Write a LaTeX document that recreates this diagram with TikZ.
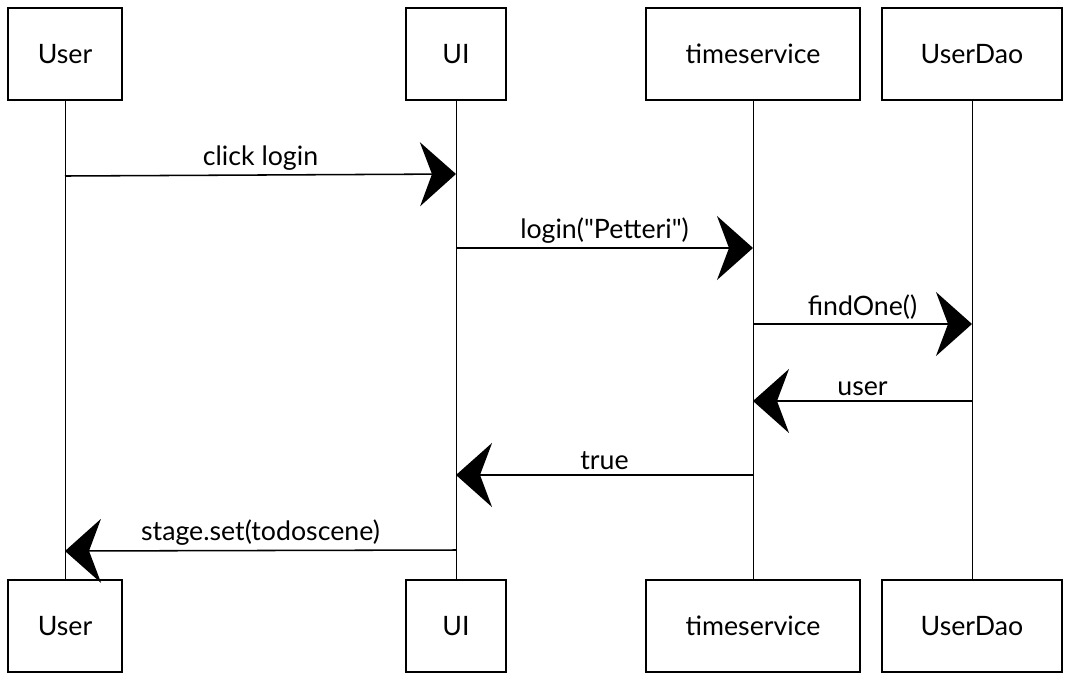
\documentclass[tikz,border=0pt]{standalone}
\usepackage{fontspec}
\setmainfont{Lato}[Ligatures=TeXOff]
\usetikzlibrary{arrows.meta}
\tikzset{
    box/.style={draw,line width=1.3pt,minimum height=2.3cm,inner sep=0pt,font=\fontsize{19}{22}\selectfont},
    life/.style={line width=.7pt},
    msg/.style={line width=1.1pt,-{Stealth[length=.9cm,width=1.6cm,inset=.3cm]}},
    lbl/.style={font=\fontsize{19}{22}\selectfont,inner sep=3pt}
}
\begin{document}
\begin{tikzpicture}[x=.025cm,y=-.025cm]
\useasboundingbox (0,0) rectangle (1070,680);
% heads
    \node[box,minimum width=2.85cm](U1) at (65,54){User};
    \node[box,minimum width=2.5cm](I1) at (456,54){UI};
    \node[box,minimum width=5.35cm](T1) at (753,54){timeservice};
    \node[box,minimum width=4.5cm](D1) at (972,54){UserDao};
% feet
    \node[box,minimum width=2.85cm](U2) at (65,626){User};
    \node[box,minimum width=2.5cm](I2) at (456,626){UI};
    \node[box,minimum width=5.35cm](T2) at (753,626){timeservice};
    \node[box,minimum width=4.5cm](D2) at (972,626){UserDao};
    \draw[life](U1)--(U2) (I1)--(I2) (T1)--(T2) (D1)--(D2);
% message ends on the lifelines
    \coordinate(U-a) at (65,176);
    \coordinate(I-a) at (456,174);
    \coordinate(I-b) at (456,248);
    \coordinate(T-b) at (753,248);
    \coordinate(T-c) at (753,324);
    \coordinate(D-c) at (972,324);
    \coordinate(D-d) at (972,401);
    \coordinate(T-d) at (753,401);
    \coordinate(T-e) at (753,475);
    \coordinate(I-e) at (456,475);
    \coordinate(I-f) at (456,550);
    \coordinate(U-f) at (65,551);
    \draw[msg](U-a)--(I-a) node[lbl,midway,above]{click login};
    \draw[msg](I-b)--(T-b) node[lbl,midway,above]{login("Petteri")};
    \draw[msg](T-c)--(D-c) node[lbl,midway,above]{findOne()};
    \draw[msg](D-d)--(T-d) node[lbl,midway,above]{user};
    \draw[msg](T-e)--(I-e) node[lbl,midway,above]{true};
    \draw[msg](I-f)--(U-f) node[lbl,midway,above]{stage.set(todoscene)};
\end{tikzpicture}
\end{document}
